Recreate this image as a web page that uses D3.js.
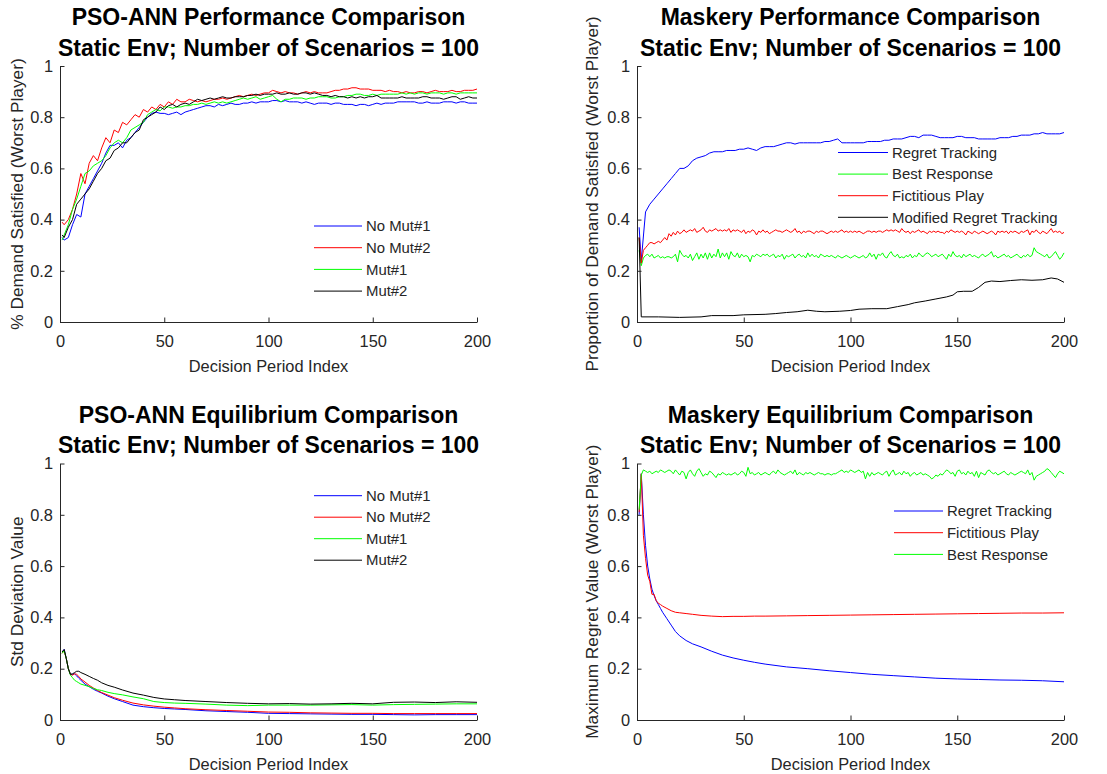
<!DOCTYPE html>
<html>
<head>
<meta charset="utf-8">
<script src="https://cdn.jsdelivr.net/npm/d3@7"></script>
<style>
  body { margin: 0; background: #fff; }
  svg text { font-family: "Liberation Sans", Arial, Helvetica, sans-serif; }
</style>
</head>
<body>
<svg id="fig" width="1107" height="774"></svg>
<script>
// ---------- shared axis values ----------
const xTicks = [0, 50, 100, 150, 200];
const yTicks = [0, 0.2, 0.4, 0.6, 0.8, 1];
const periods = d3.range(1, 201);                 // every decision period 1..200
const everyOther = [1].concat(d3.range(2, 201, 2)); // 1, 2, 4, ..., 200

// ---------- PSO-ANN performance (worst player demand satisfied), on everyOther ----------
const perfNoMut1 = [.33,
  .32,.33,.38,.42,.41,.50,.53,.56,.59,.62,
  .66,.69,.69,.70,.68,.71,.72,.74,.76,.78,
  .80,.815,.82,.815,.815,.81,.815,.82,.81,.82,
  .825,.83,.835,.84,.845,.845,.84,.85,.845,.85,
  .855,.85,.85,.855,.855,.86,.855,.86,.86,.86,
  .865,.865,.86,.865,.86,.86,.86,.855,.86,.855,
  .85,.855,.855,.855,.85,.855,.855,.85,.85,.85,
  .845,.85,.85,.845,.85,.855,.85,.855,.855,.855,
  .86,.86,.86,.86,.86,.855,.855,.86,.855,.855,
  .855,.86,.86,.86,.855,.86,.86,.855,.855,.855];
const perfNoMut2 = [.39,
  .38,.40,.44,.50,.58,.54,.62,.65,.63,.68,
  .72,.70,.75,.74,.78,.77,.79,.81,.80,.83,
  .82,.84,.83,.85,.84,.86,.85,.87,.86,.86,
  .87,.865,.86,.865,.86,.865,.87,.87,.875,.87,
  .875,.88,.885,.88,.885,.89,.885,.89,.895,.895,
  .905,.90,.895,.90,.895,.895,.89,.895,.90,.895,
  .90,.895,.895,.895,.90,.905,.905,.91,.91,.915,
  .915,.91,.91,.91,.905,.905,.905,.90,.905,.90,
  .90,.895,.90,.895,.895,.90,.90,.895,.90,.905,
  .90,.90,.90,.905,.90,.90,.905,.905,.905,.91];
const perfMut1 = [.32,
  .34,.38,.44,.48,.53,.58,.59,.61,.62,.63,
  .65,.68,.70,.71,.70,.72,.75,.76,.77,.78,
  .81,.82,.83,.825,.84,.84,.835,.84,.84,.845,
  .845,.85,.85,.855,.85,.855,.86,.855,.86,.855,
  .86,.865,.87,.875,.87,.875,.88,.87,.875,.88,
  .885,.87,.86,.87,.87,.875,.875,.875,.87,.875,
  .875,.88,.88,.88,.875,.875,.88,.88,.885,.885,
  .89,.89,.885,.885,.89,.885,.89,.89,.89,.89,
  .89,.895,.89,.895,.89,.895,.895,.89,.895,.895,
  .895,.89,.895,.895,.89,.895,.895,.895,.895,.895];
const perfMut2 = [.34,
  .33,.37,.40,.46,.48,.50,.52,.55,.58,.60,
  .63,.64,.67,.68,.70,.70,.72,.74,.75,.79,
  .80,.81,.82,.84,.83,.845,.85,.84,.85,.855,
  .85,.86,.87,.865,.87,.875,.87,.875,.88,.875,
  .875,.88,.88,.88,.885,.885,.89,.885,.89,.89,
  .89,.895,.89,.89,.895,.89,.89,.895,.895,.89,
  .895,.89,.885,.885,.88,.885,.88,.88,.875,.88,
  .875,.88,.875,.88,.88,.885,.875,.875,.875,.875,
  .875,.88,.875,.875,.875,.875,.88,.88,.875,.875,
  .875,.87,.875,.88,.88,.87,.875,.88,.875,.875];

// ---------- Maskery performance ----------
const rtPerf = [.37,               // Regret Tracking, on everyOther
  .24,.43,.46,.48,.50,.52,.54,.56,.58,.60,
  .60,.61,.63,.64,.645,.65,.66,.665,.665,.665,
  .67,.67,.67,.675,.675,.68,.675,.67,.68,.685,
  .685,.685,.69,.695,.70,.70,.695,.70,.70,.70,
  .70,.70,.70,.705,.705,.71,.715,.70,.70,.70,
  .70,.70,.70,.705,.705,.705,.705,.71,.71,.715,
  .715,.715,.72,.725,.725,.72,.73,.73,.73,.725,
  .72,.72,.72,.72,.725,.725,.72,.72,.72,.715,
  .715,.715,.715,.715,.72,.72,.72,.725,.725,.73,
  .73,.73,.735,.735,.74,.735,.735,.735,.735,.74];
const brPerf = [                   // Best Response, on periods
  .28,.22,.25,.26,.265,.255,.265,.25,.255,.26,.25,.255,.25,.255,.255,.25,.255,.265,.235,.28,
  .265,.255,.26,.25,.265,.24,.255,.27,.245,.265,.25,.27,.245,.27,.25,.265,.255,.285,.25,.27,
  .255,.27,.245,.275,.26,.255,.27,.25,.265,.255,.26,.255,.235,.26,.255,.265,.26,.255,.265,.26,
  .265,.255,.26,.265,.25,.26,.255,.265,.245,.26,.255,.26,.265,.25,.26,.265,.255,.26,.25,.27,
  .255,.265,.255,.26,.25,.265,.26,.255,.26,.255,.26,.255,.25,.26,.255,.25,.255,.26,.255,.25,
  .255,.26,.255,.25,.255,.26,.25,.255,.27,.255,.265,.245,.265,.26,.27,.255,.25,.265,.275,.26,
  .255,.265,.25,.255,.25,.26,.255,.265,.25,.26,.255,.27,.26,.255,.265,.27,.265,.255,.26,.265,
  .255,.26,.265,.255,.245,.265,.255,.275,.26,.255,.26,.25,.265,.255,.26,.265,.255,.26,.255,.25,
  .26,.265,.255,.26,.265,.275,.255,.26,.25,.255,.26,.265,.255,.26,.25,.255,.26,.265,.255,.25,
  .26,.255,.265,.255,.26,.29,.275,.27,.265,.26,.255,.265,.25,.255,.265,.275,.26,.245,.255,.27];
const fpPerf = [                   // Fictitious Play, on periods
  .33,.23,.28,.29,.30,.31,.31,.305,.31,.315,.31,.32,.33,.32,.345,.335,.35,.34,.355,.345,
  .35,.36,.35,.355,.36,.355,.365,.35,.355,.36,.37,.355,.35,.36,.355,.36,.365,.355,.36,.355,
  .36,.355,.365,.35,.36,.355,.36,.355,.35,.36,.345,.355,.35,.36,.355,.34,.355,.35,.36,.35,
  .355,.345,.35,.355,.36,.355,.355,.35,.355,.36,.355,.35,.355,.365,.35,.355,.345,.355,.35,.355,
  .355,.35,.345,.355,.35,.355,.355,.35,.345,.35,.355,.35,.355,.35,.355,.36,.35,.355,.35,.355,
  .35,.355,.35,.355,.35,.345,.35,.355,.355,.35,.355,.35,.355,.355,.35,.355,.36,.355,.36,.355,
  .36,.355,.35,.365,.355,.35,.355,.345,.355,.35,.355,.36,.35,.355,.35,.345,.355,.35,.355,.35,
  .355,.35,.35,.345,.355,.35,.36,.355,.35,.355,.35,.355,.35,.34,.355,.35,.345,.355,.35,.345,
  .35,.355,.35,.345,.35,.355,.35,.34,.355,.35,.355,.35,.355,.345,.355,.35,.355,.35,.345,.355,
  .35,.355,.36,.34,.355,.35,.36,.35,.345,.355,.35,.345,.355,.365,.35,.355,.35,.355,.345,.35];
const mrtPeriods = [1,2,10,20,30,35,45,50,60,65,70,75,80,84,88,95,100,104,110,117,122,127,130,135,140,145,148,150,153,157,160,163,166,170,175,180,185,190,194,197,200];
const mrtPerf    = [.33,.02,.02,.018,.02,.025,.025,.028,.03,.033,.037,.04,.046,.042,.04,.042,.045,.05,.052,.052,.06,.068,.075,.082,.09,.098,.105,.118,.12,.12,.135,.155,.16,.158,.162,.165,.163,.165,.172,.168,.155];

// ---------- PSO-ANN equilibrium (std deviation) ----------
const sdPeriods = [1,2,3,4,5,6,7,8,9,10,12,14,16,18,20,23,26,30,35,40,45,50,55,60,70,80,90,100,110,120,130,140,150,160,170,180,190,200];
const sdNoMut1 = [.265,.275,.24,.20,.178,.178,.18,.172,.163,.155,.14,.13,.12,.112,.105,.093,.083,.072,.058,.052,.048,.045,.043,.041,.036,.033,.03,.026,.025,.024,.023,.022,.022,.021,.02,.021,.021,.021];
const sdNoMut2 = [.26,.27,.24,.20,.178,.175,.18,.178,.17,.16,.148,.135,.125,.115,.107,.097,.087,.077,.066,.059,.054,.05,.047,.044,.04,.037,.034,.031,.03,.028,.027,.026,.026,.025,.025,.025,.025,.025];
const sdMut1   = [.26,.27,.24,.20,.175,.165,.155,.15,.145,.14,.135,.13,.123,.118,.115,.108,.103,.098,.09,.083,.072,.068,.066,.065,.062,.058,.056,.058,.058,.058,.059,.06,.058,.06,.061,.062,.063,.063];
const sdMut2   = [.265,.275,.24,.20,.178,.18,.185,.19,.19,.185,.178,.17,.162,.155,.145,.135,.128,.117,.105,.097,.088,.082,.079,.076,.072,.068,.065,.063,.064,.062,.063,.065,.063,.069,.07,.068,.071,.069];

// ---------- Maskery equilibrium (maximum regret) ----------
const eqPeriods = [1,2,3,4,5,6,7,8,9,10,11,12,14,16,18,20,23,26,30,35,40,45,50,55,60,70,80,90,100,110,120,130,140,150,160,170,180,190,200];
const rtRegret = [.80,.96,.80,.68,.60,.55,.51,.485,.465,.45,.435,.42,.395,.37,.345,.328,.31,.297,.285,.268,.253,.242,.233,.225,.218,.207,.20,.192,.185,.178,.173,.168,.163,.16,.158,.156,.155,.153,.149];
const fpRegret = [.81,.96,.72,.63,.565,.54,.49,.49,.465,.455,.45,.444,.435,.426,.42,.418,.415,.412,.408,.405,.403,.404,.404,.405,.405,.406,.407,.408,.409,.41,.411,.412,.413,.414,.415,.416,.417,.417,.418];
const brRegret = [                 // Best Response, on periods
  .82,.955,.975,.97,.965,.97,.96,.965,.97,.965,.975,.97,.965,.97,.975,.97,.96,.975,.965,.955,
  .97,.965,.94,.965,.975,.96,.95,.97,.98,.965,.95,.96,.955,.97,.965,.955,.945,.96,.955,.965,
  .96,.955,.96,.955,.96,.965,.955,.96,.97,.965,.95,.985,.96,.965,.955,.96,.965,.955,.96,.965,
  .96,.955,.965,.97,.96,.975,.965,.96,.955,.96,.965,.97,.96,.975,.955,.965,.96,.955,.965,.96,
  .965,.96,.955,.96,.965,.96,.96,.955,.96,.96,.955,.96,.96,.965,.97,.975,.965,.97,.965,.975,
  .97,.965,.97,.975,.965,.97,.94,.965,.95,.965,.955,.96,.965,.96,.955,.965,.97,.95,.965,.975,
  .955,.96,.965,.955,.97,.96,.965,.95,.96,.965,.955,.96,.965,.955,.96,.955,.95,.94,.945,.955,
  .95,.96,.955,.965,.975,.97,.96,.965,.95,.97,.975,.96,.965,.955,.97,.96,.965,.95,.97,.945,
  .965,.96,.955,.97,.975,.965,.96,.965,.955,.96,.965,.97,.96,.955,.965,.96,.955,.96,.965,.97,
  .965,.96,.975,.955,.965,.935,.95,.955,.96,.965,.97,.98,.975,.965,.955,.945,.96,.97,.965,.96];

// ---------- figure ----------
const BLUE = "#0000ff", RED = "#ff0000", GREEN = "#00ff00", BLACK = "#000000";
const AXIS_COLOR = "#262626";
const svg = d3.select("#fig");

const panels = [
  {
    box: {l: 60, r: 477, t: 66, b: 322}, titleY: 25,
    title: ["PSO-ANN Performance Comparison", "Static Env; Number of Scenarios = 100"],
    ylabel: "% Demand Satisfied (Worst Player)", ylabelX: 23,
    legend: {x1: 314, x2: 362, tx: 366, y0: 226, dy: 21.7},
    series: [
      {name: "No Mut#1", color: BLUE,  x: everyOther, y: perfNoMut1},
      {name: "No Mut#2", color: RED,   x: everyOther, y: perfNoMut2},
      {name: "Mut#1",    color: GREEN, x: everyOther, y: perfMut1},
      {name: "Mut#2",    color: BLACK, x: everyOther, y: perfMut2}
    ]
  },
  {
    box: {l: 637, r: 1064, t: 66, b: 322}, titleY: 25,
    title: ["Maskery Performance Comparison", "Static Env; Number of Scenarios = 100"],
    ylabel: "Proportion of Demand Satisfied (Worst Player)", ylabelX: 598,
    legend: {x1: 838, x2: 888, tx: 892, y0: 152.5, dy: 21.6},
    series: [
      {name: "Regret Tracking",          color: BLUE,  x: everyOther, y: rtPerf},
      {name: "Best Response",            color: GREEN, x: periods,    y: brPerf},
      {name: "Fictitious Play",          color: RED,   x: periods,    y: fpPerf},
      {name: "Modified Regret Tracking", color: BLACK, x: mrtPeriods, y: mrtPerf}
    ]
  },
  {
    box: {l: 60, r: 477, t: 463.5, b: 720}, titleY: 422.7,
    title: ["PSO-ANN Equilibrium Comparison", "Static Env; Number of Scenarios = 100"],
    ylabel: "Std Deviation Value", ylabelX: 23,
    legend: {x1: 314, x2: 362, tx: 366, y0: 495.7, dy: 21.5},
    series: [
      {name: "No Mut#1", color: BLUE,  x: sdPeriods, y: sdNoMut1},
      {name: "No Mut#2", color: RED,   x: sdPeriods, y: sdNoMut2},
      {name: "Mut#1",    color: GREEN, x: sdPeriods, y: sdMut1},
      {name: "Mut#2",    color: BLACK, x: sdPeriods, y: sdMut2}
    ]
  },
  {
    box: {l: 637, r: 1064, t: 463.5, b: 720}, titleY: 422.7,
    title: ["Maskery Equilibrium Comparison", "Static Env; Number of Scenarios = 100"],
    ylabel: "Maximum Regret Value (Worst Player)", ylabelX: 598,
    legend: {x1: 894, x2: 943, tx: 947, y0: 511, dy: 21.7},
    series: [
      {name: "Regret Tracking", color: BLUE,  x: eqPeriods, y: rtRegret},
      {name: "Fictitious Play", color: RED,   x: eqPeriods, y: fpRegret},
      {name: "Best Response",   color: GREEN, x: periods,   y: brRegret}
    ]
  }
];

const fmt = d3.format("~g");

panels.forEach(p => {
  const {l, r, t, b} = p.box;
  const x = d3.scaleLinear().domain([0, 200]).range([l, r]);
  const y = d3.scaleLinear().domain([0, 1]).range([b, t]);
  const g = svg.append("g");

  // data lines
  const line = d3.line().x(d => x(d[0])).y(d => y(d[1]));
  p.series.forEach(s => {
    g.append("path")
      .datum(s.x.map((xv, i) => [xv, s.y[i]]))
      .attr("d", line)
      .attr("fill", "none")
      .attr("stroke", s.color)
      .attr("stroke-width", 1)
      .attr("stroke-linejoin", "round");
  });

  // axes (ticks point inward)
  const xAxis = d3.axisBottom(x).tickValues(xTicks).tickFormat(fmt)
    .tickSizeInner(-4.5).tickSizeOuter(0).tickPadding(13.5);
  const yAxis = d3.axisLeft(y).tickValues(yTicks).tickFormat(fmt)
    .tickSizeInner(-4.5).tickSizeOuter(0).tickPadding(7);
  const gx = g.append("g").attr("transform", `translate(0,${b})`).call(xAxis);
  const gy = g.append("g").attr("transform", `translate(${l},0)`).call(yAxis);
  [gx, gy].forEach(a => {
    a.attr("font-family", null).attr("font-size", null);
    a.select(".domain").attr("stroke", AXIS_COLOR);
    a.selectAll(".tick line").attr("stroke", AXIS_COLOR);
    a.selectAll(".tick text").attr("fill", AXIS_COLOR).style("font-size", "16.4px");
  });

  // x label
  g.append("text")
    .attr("x", (l + r) / 2).attr("y", b + 49.5)
    .attr("text-anchor", "middle")
    .attr("fill", AXIS_COLOR)
    .style("font-size", "16.4px")
    .text("Decision Period Index");

  // y label
  g.append("text")
    .attr("transform", `translate(${p.ylabelX},${(t + b) / 2}) rotate(-90)`)
    .attr("text-anchor", "middle")
    .attr("fill", AXIS_COLOR)
    .style("font-size", "17.3px")
    .text(p.ylabel);

  // title
  p.title.forEach((line, i) => {
    g.append("text")
      .attr("x", (l + r) / 2).attr("y", p.titleY + i * 30.7)
      .attr("text-anchor", "middle")
      .attr("fill", "#000")
      .style("font-size", "23px")
      .style("font-weight", "bold")
      .text(line);
  });

  // legend (no box)
  const lg = p.legend;
  p.series.forEach((s, i) => {
    const yy = lg.y0 + i * lg.dy;
    g.append("line")
      .attr("x1", lg.x1).attr("x2", lg.x2)
      .attr("y1", yy).attr("y2", yy)
      .attr("stroke", s.color).attr("stroke-width", 1);
    g.append("text")
      .attr("x", lg.tx).attr("y", yy).attr("dy", "0.35em")
      .attr("fill", AXIS_COLOR)
      .style("font-size", "14.9px")
      .text(s.name);
  });
});
</script>
</body>
</html>
